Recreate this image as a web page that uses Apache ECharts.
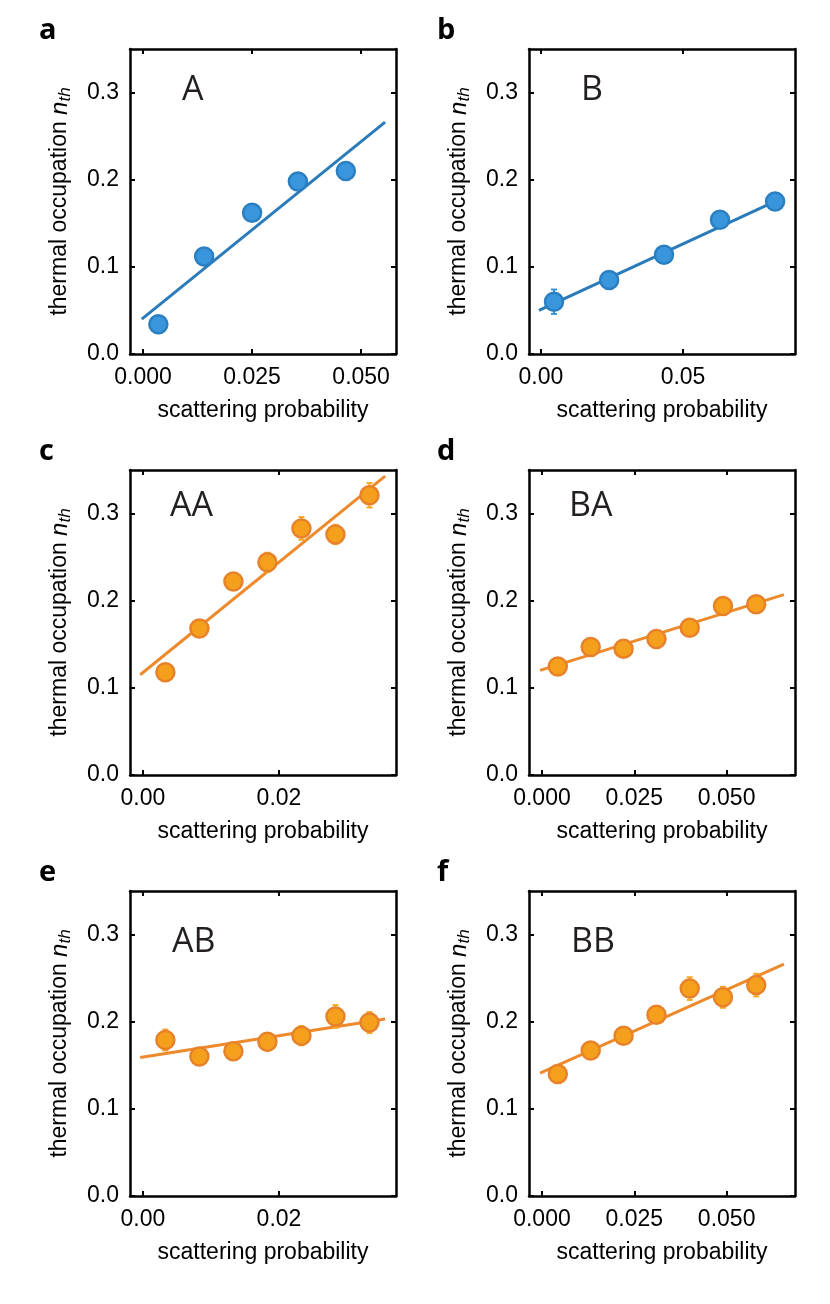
<!DOCTYPE html>
<html>
<head>
<meta charset="utf-8">
<script src="https://cdn.jsdelivr.net/npm/echarts@6/dist/echarts.min.js"></script>
<style>
  html, body { margin: 0; background: #fff; }
  #chart { width: 830px; height: 1304px; }
</style>
</head>
<body>
<div id="chart"></div>
<script>
// panel a — A
const aX = [0.0035, 0.014, 0.025, 0.0355, 0.0465];
const aY = [0.034, 0.112, 0.162, 0.198, 0.210];
const aErr = [0.006, 0.006, 0.006, 0.006, 0.006];
const aFitX = [-0.0003, 0.0555];
const aFitY = [0.040, 0.266];

// panel b — B
const bX = [0.0046, 0.024, 0.0433, 0.063, 0.0824];
const bY = [0.060, 0.085, 0.114, 0.154, 0.175];
const bErr = [0.014, 0.006, 0.006, 0.006, 0.006];
const bFitX = [-0.0007, 0.083];
const bFitY = [0.050, 0.176];

// panel c — AA
const cX = [0.0033, 0.0083, 0.0133, 0.0183, 0.0233, 0.0283, 0.0333];
const cY = [0.118, 0.168, 0.222, 0.244, 0.283, 0.276, 0.321];
const cErr = [0.008, 0.008, 0.008, 0.011, 0.013, 0.011, 0.014];
const cFitX = [-0.0004, 0.0356];
const cFitY = [0.115, 0.343];

// panel d — BA
const dX = [0.0043, 0.0132, 0.0221, 0.031, 0.040, 0.049, 0.058];
const dY = [0.1245, 0.147, 0.145, 0.156, 0.169, 0.194, 0.196];
const dErr = [0.007, 0.007, 0.007, 0.007, 0.007, 0.007, 0.007];
const dFitX = [-0.0005, 0.0655];
const dFitY = [0.120, 0.207];

// panel e — AB
const eX = [0.0033, 0.0083, 0.0133, 0.0183, 0.0233, 0.0283, 0.0333];
const eY = [0.179, 0.160, 0.166, 0.177, 0.184, 0.206, 0.199];
const eErr = [0.012, 0.008, 0.008, 0.010, 0.011, 0.013, 0.012];
const eFitX = [-0.0004, 0.0356];
const eFitY = [0.159, 0.203];

// panel f — BB
const fX = [0.0043, 0.0132, 0.0221, 0.031, 0.040, 0.049, 0.058];
const fY = [0.140, 0.167, 0.184, 0.208, 0.238, 0.228, 0.242];
const fErr = [0.008, 0.008, 0.008, 0.008, 0.013, 0.012, 0.013];
const fFitX = [-0.0005, 0.0655];
const fFitY = [0.141, 0.266];

// axes
const xRangeA = [-0.003, 0.058];
const xRangeB = [-0.0042, 0.0894];
const xRangeShort = [-0.0019, 0.0372];
const xRangeLong = [-0.0035, 0.0685];
const xTicksA = [0, 0.025, 0.05];
const xTicksB = [0, 0.05];
const xTicksShort = [0, 0.02];
const xTicksLong = [0, 0.025, 0.05];
const yTicks = [0, 0.1, 0.2, 0.3];

const BLUE = { fill: '#3a96dc', edge: '#2a7fc1', line: '#2b7bba', bar: '#3a96dc' };
const ORANGE = { fill: '#f4a01c', edge: '#e8822a', line: '#ec8a2c', bar: '#f5a823' };

const panels = [
  { letter: 'a', label: 'A', x: aX, y: aY, err: aErr, fitX: aFitX, fitY: aFitY, range: xRangeA, ticks: xTicksA, dec: 3, col: BLUE,
    left: 130, top: 49, labelX: 182, labelY: 90 },
  { letter: 'b', label: 'B', x: bX, y: bY, err: bErr, fitX: bFitX, fitY: bFitY, range: xRangeB, ticks: xTicksB, dec: 2, col: BLUE,
    left: 529, top: 49, labelX: 581, labelY: 90 },
  { letter: 'c', label: 'AA', x: cX, y: cY, err: cErr, fitX: cFitX, fitY: cFitY, range: xRangeShort, ticks: xTicksShort, dec: 2, col: ORANGE,
    left: 130, top: 470, labelX: 170, labelY: 506 },
  { letter: 'd', label: 'BA', x: dX, y: dY, err: dErr, fitX: dFitX, fitY: dFitY, range: xRangeLong, ticks: xTicksLong, dec: 3, col: ORANGE,
    left: 529, top: 470, labelX: 569, labelY: 506 },
  { letter: 'e', label: 'AB', x: eX, y: eY, err: eErr, fitX: eFitX, fitY: eFitY, range: xRangeShort, ticks: xTicksShort, dec: 2, col: ORANGE,
    left: 130, top: 891, labelX: 172, labelY: 942 },
  { letter: 'f', label: 'BB', x: fX, y: fY, err: fErr, fitX: fFitX, fitY: fFitY, range: xRangeLong, ticks: xTicksLong, dec: 3, col: ORANGE,
    left: 529, top: 891, labelX: 571, labelY: 942 }
];

const FONT = 'Liberation Sans, Arial, sans-serif';
const frame = { show: true, onZero: false, lineStyle: { color: '#000', width: 2.5 } };
const tick = (vals) => ({ show: true, inside: true, length: 5, customValues: vals, lineStyle: { color: '#000', width: 2 } });

const grid = [], xAxis = [], yAxis = [], series = [], graphic = [];

panels.forEach((p, i) => {
  grid.push({ left: p.left, top: p.top, width: 266, height: 305 });

  xAxis.push({
    gridIndex: i, type: 'value', position: 'bottom', min: p.range[0], max: p.range[1],
    axisLine: frame, splitLine: { show: false }, axisTick: tick(p.ticks),
    axisLabel: { customValues: p.ticks, formatter: v => v.toFixed(p.dec), fontSize: 23, color: '#000', fontFamily: FONT, margin: 12 },
    name: 'scattering probability', nameLocation: 'middle', nameGap: 45,
    nameTextStyle: { fontSize: 23, color: '#000', fontFamily: FONT }
  });
  xAxis.push({
    gridIndex: i, type: 'value', position: 'top', min: p.range[0], max: p.range[1],
    axisLine: frame, splitLine: { show: false }, axisTick: tick(p.ticks), axisLabel: { show: false }
  });

  yAxis.push({
    gridIndex: i, type: 'value', position: 'left', min: 0, max: 0.35,
    axisLine: frame, splitLine: { show: false }, axisTick: tick(yTicks),
    axisLabel: { customValues: yTicks, formatter: v => v.toFixed(1), fontSize: 23, color: '#000', fontFamily: FONT, margin: 11 },
    name: '{t|thermal occupation }{n|n}{s|th}', nameLocation: 'middle', nameGap: 58, nameRotate: 90,
    nameTextStyle: {
      color: '#000', fontFamily: FONT, fontSize: 23,
      rich: {
        t: { fontSize: 23, fontFamily: FONT, color: '#000', lineHeight: 24 },
        n: { fontSize: 24, fontFamily: FONT, color: '#000', fontStyle: 'italic', lineHeight: 24 },
        s: { fontSize: 17, fontFamily: FONT, color: '#000', fontStyle: 'italic', lineHeight: 18, padding: [10, 0, 0, 0] }
      }
    }
  });
  yAxis.push({
    gridIndex: i, type: 'value', position: 'right', min: 0, max: 0.35,
    axisLine: frame, splitLine: { show: false }, axisTick: tick(yTicks), axisLabel: { show: false }
  });

  const xi = 2 * i, yi = 2 * i;

  series.push({
    type: 'line', xAxisIndex: xi, yAxisIndex: yi, z: 2,
    data: p.fitX.map((x, k) => [x, p.fitY[k]]),
    showSymbol: false, symbol: 'none', silent: true,
    lineStyle: { color: p.col.line, width: 3 }
  });

  series.push({
    type: 'custom', xAxisIndex: xi, yAxisIndex: yi, z: 3, silent: true,
    data: p.x.map((x, k) => [x, p.y[k], p.err[k]]),
    renderItem: (params, api) => {
      const x = api.value(0), y = api.value(1), e = api.value(2);
      const hi = api.coord([x, y + e]);
      const lo = api.coord([x, y - e]);
      const st = { stroke: p.col.bar, lineWidth: 2 };
      return {
        type: 'group',
        children: [
          { type: 'line', shape: { x1: hi[0], y1: hi[1], x2: lo[0], y2: lo[1] }, style: st },
          { type: 'line', shape: { x1: hi[0] - 3, y1: hi[1], x2: hi[0] + 3, y2: hi[1] }, style: st },
          { type: 'line', shape: { x1: lo[0] - 3, y1: lo[1], x2: lo[0] + 3, y2: lo[1] }, style: st }
        ]
      };
    }
  });

  series.push({
    type: 'scatter', xAxisIndex: xi, yAxisIndex: yi, z: 4,
    data: p.x.map((x, k) => [x, p.y[k]]),
    symbol: 'circle', symbolSize: 18,
    itemStyle: { color: p.col.fill, borderColor: p.col.edge, borderWidth: 2.5, opacity: 1 }
  });

  // panel letter and sample label
  graphic.push({
    type: 'text', left: i % 2 === 0 ? 39 : 437, top: p.top - 33,
    style: { text: p.letter, font: 'bold 29px "Open Sans", sans-serif', fill: '#000' }
  });
  graphic.push({
    type: 'text', x: p.labelX, y: p.labelY,
    style: { text: p.label, font: '34px "Open Sans", sans-serif', fill: '#231f20', verticalAlign: 'middle' }
  });
});

const chart = echarts.init(document.getElementById('chart'));
chart.setOption({
  animation: false,
  backgroundColor: '#fff',
  grid, xAxis, yAxis, series, graphic
});
</script>
</body>
</html>
